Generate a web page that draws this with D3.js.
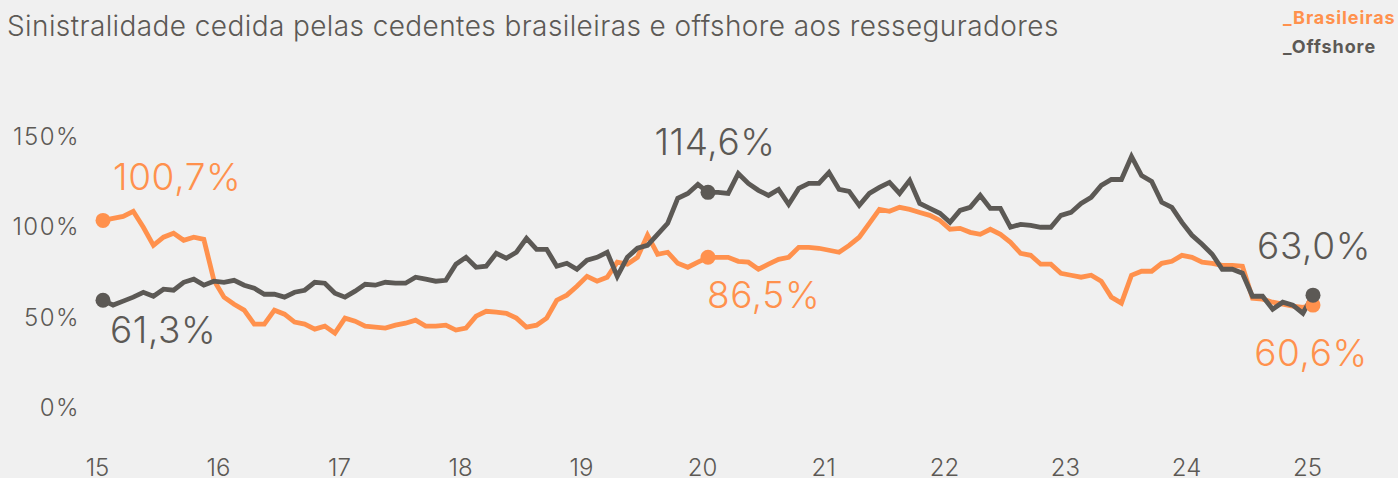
<!DOCTYPE html>
<html>
<head>
<meta charset="utf-8">
<script src="https://cdn.jsdelivr.net/npm/d3@7"></script>
<style>
  body { margin: 0; background: #f0f0f0; }
  svg { display: block; font-family: Inter, "Open Sans", sans-serif; }
</style>
</head>
<body>
<div id="chart"></div>
<script>
// monthly values, Jan 2015 .. Jan 2025 (percent)
const yearLabels = ["15", "16", "17", "18", "19", "20", "21", "22", "23", "24", "25"];
const yTicks = [0, 50, 100, 150];

const brasileiras = [
  103.1, 104.2, 105.3, 108.1, 99.3, 89.3, 93.8, 96.0, 92.1, 93.8, 92.6, 70.0,
  60.7, 56.8, 53.5, 45.8, 45.8, 53.5, 51.3, 46.9, 45.8, 43.0, 44.7, 40.8,
  49.1, 47.4, 44.7, 44.1, 43.6, 45.2, 46.3, 48.0, 44.7, 44.7, 45.2, 42.5,
  43.6, 50.2, 52.9, 52.4, 51.8, 49.1, 44.1, 45.2, 49.1, 59.0, 61.8, 66.7,
  72.2, 69.5, 71.7, 80.0, 78.9, 82.7, 94.9, 84.4, 85.5, 79.4, 77.2, 80.0,
  82.7, 82.7, 82.7, 80.5, 80.0, 76.1, 78.9, 81.6, 82.7, 88.2, 88.2, 87.7,
  86.6, 85.5, 89.3, 93.8, 101.5, 109.2, 108.1, 110.3, 109.2, 107.5, 105.9, 103.1,
  98.2, 98.7, 96.5, 95.4, 98.2, 95.4, 91.0, 84.9, 83.8, 78.9, 78.9, 73.9,
  72.8, 71.7, 72.8, 69.5, 60.7, 57.4, 72.8, 75.0, 75.0, 79.4, 80.5, 83.8,
  82.7, 80.0, 79.4, 78.3, 78.3, 77.8, 60.1, 59.6, 57.9, 56.8, 55.7, 55.1,
  56.3
];

const offshore = [
  59.0, 56.3, 58.5, 60.7, 63.4, 61.2, 65.1, 64.5, 68.9, 70.6, 67.3, 69.5,
  68.9, 70.0, 67.3, 65.6, 62.3, 62.3, 60.7, 63.4, 64.5, 68.9, 68.4, 62.9,
  60.7, 64.0, 67.8, 67.3, 68.9, 68.4, 68.4, 71.7, 70.6, 69.5, 70.0, 78.9,
  82.7, 77.2, 77.8, 84.9, 82.2, 85.5, 93.2, 87.1, 87.1, 77.8, 79.4, 76.1,
  81.1, 82.7, 85.5, 72.2, 82.7, 87.7, 89.3, 95.4, 101.5, 115.3, 118.0, 123.0,
  118.6, 118.6, 118.0, 129.0, 123.5, 119.7, 116.9, 120.2, 111.9, 120.8, 123.5, 123.5,
  129.6, 120.2, 119.1, 111.4, 118.0, 121.3, 124.1, 118.0, 125.2, 112.5, 109.7, 107.0,
  102.0, 108.6, 110.3, 116.9, 109.7, 109.7, 99.3, 100.9, 100.4, 99.3, 99.3, 105.9,
  107.5, 112.5, 115.8, 122.4, 125.7, 125.7, 138.4, 127.9, 124.6, 113.1, 110.3, 102.0,
  94.9, 89.9, 84.4, 76.1, 76.1, 73.9, 61.2, 61.2, 54.0, 57.9, 56.3, 51.8,
  61.8
];

// highlighted points: index -> label text
const brLabels = [[0, "100,7%"], [60, "86,5%"], [120, "60,6%"]];
const offLabels = [[0, "61,3%"], [60, "114,6%"], [120, "63,0%"]];

const orange = "#ff914d";
const grey = "#5c5955";

const width = 1398, height = 478;
const svg = d3.select("#chart")
  .append("svg")
  .attr("width", width)
  .attr("height", height);

const x = d3.scaleLinear()
  .domain([0, brasileiras.length - 1])
  .range([103, 1313]);
const y = d3.scaleLinear()
  .domain([0, 150])
  .range([407, 135.5]);

// title + legend
svg.append("text")
  .attr("x", 7).attr("y", 36)
  .attr("fill", grey)
  .style("font-size", "28px")
  .style("font-weight", 300)
  .style("letter-spacing", "0.4px")
  .text("Sinistralidade cedida pelas cedentes brasileiras e offshore aos resseguradores");

svg.append("text")
  .attr("x", 1283).attr("y", 24)
  .attr("fill", orange)
  .style("font-size", "18px").style("font-weight", 700)
  .style("letter-spacing", "0.9px")
  .text("_Brasileiras");
svg.append("text")
  .attr("x", 1283).attr("y", 53)
  .attr("fill", grey)
  .style("font-size", "18px").style("font-weight", 700)
  .style("letter-spacing", "0.9px")
  .text("_Offshore");

// axes (labels only)
const yAxis = svg.append("g")
  .attr("transform", "translate(80,0)")
  .call(d3.axisLeft(y).tickValues(yTicks).tickSize(0).tickPadding(0).tickFormat(d => d + "%"));
yAxis.select(".domain").remove();
yAxis.selectAll("text")
  .attr("dy", "0.36em")
  .attr("fill", grey)
  .style("font-size", "24px")
  .style("font-weight", 300)
  .style("letter-spacing", "1.5px")
  .style("font-family", "Inter, sans-serif");

const xAxis = svg.append("g")
  .attr("transform", "translate(0,459)")
  .call(d3.axisBottom(x)
    .tickValues(yearLabels.map((d, i) => i * 12))
    .tickSize(0).tickPadding(0)
    .tickFormat((d, i) => yearLabels[i]));
xAxis.select(".domain").remove();
xAxis.selectAll("text")
  .attr("dy", "0.72em")
  .attr("dx", -6)
  .attr("fill", grey)
  .style("font-size", "24px")
  .style("font-weight", 300)
  .style("font-family", "Inter, sans-serif");

// lines
const line = d3.line()
  .x((d, i) => x(i))
  .y(d => y(d));

svg.append("path")
  .datum(brasileiras)
  .attr("fill", "none")
  .attr("stroke", orange)
  .attr("stroke-width", 4.8)
  .attr("d", line);

svg.append("path")
  .datum(offshore)
  .attr("fill", "none")
  .attr("stroke", grey)
  .attr("stroke-width", 4.8)
  .attr("d", line);

// dots
svg.selectAll(".dot-br")
  .data(brLabels)
  .enter().append("circle")
  .attr("cx", d => x(d[0]))
  .attr("cy", d => y(brasileiras[d[0]]))
  .attr("r", 7.5)
  .attr("fill", orange);

svg.selectAll(".dot-off")
  .data(offLabels)
  .enter().append("circle")
  .attr("cx", d => x(d[0]))
  .attr("cy", d => y(offshore[d[0]]))
  .attr("r", 7.5)
  .attr("fill", grey);

// value labels, offsets relative to the dots
const brPos = [{dx: 10, dy: -30, anchor: "start"}, {dx: -1, dy: 51, anchor: "start"}, {dx: -2, dy: 61, anchor: "middle"}];
const offPos = [{dx: 7, dy: 43, anchor: "start"}, {dx: 7, dy: -37, anchor: "middle"}, {dx: 1, dy: -36, anchor: "middle"}];

svg.selectAll(".lab-br")
  .data(brLabels)
  .enter().append("text")
  .attr("x", (d, i) => x(d[0]) + brPos[i].dx)
  .attr("y", (d, i) => y(brasileiras[d[0]]) + brPos[i].dy)
  .attr("text-anchor", (d, i) => brPos[i].anchor)
  .attr("fill", orange)
  .style("font-size", "37px")
  .style("font-weight", 300)
  .style("letter-spacing", "0.6px")
  .text(d => d[1]);

svg.selectAll(".lab-off")
  .data(offLabels)
  .enter().append("text")
  .attr("x", (d, i) => x(d[0]) + offPos[i].dx)
  .attr("y", (d, i) => y(offshore[d[0]]) + offPos[i].dy)
  .attr("text-anchor", (d, i) => offPos[i].anchor)
  .attr("fill", grey)
  .style("font-size", "37px")
  .style("font-weight", 300)
  .style("letter-spacing", "0.6px")
  .text(d => d[1]);
</script>
</body>
</html>
